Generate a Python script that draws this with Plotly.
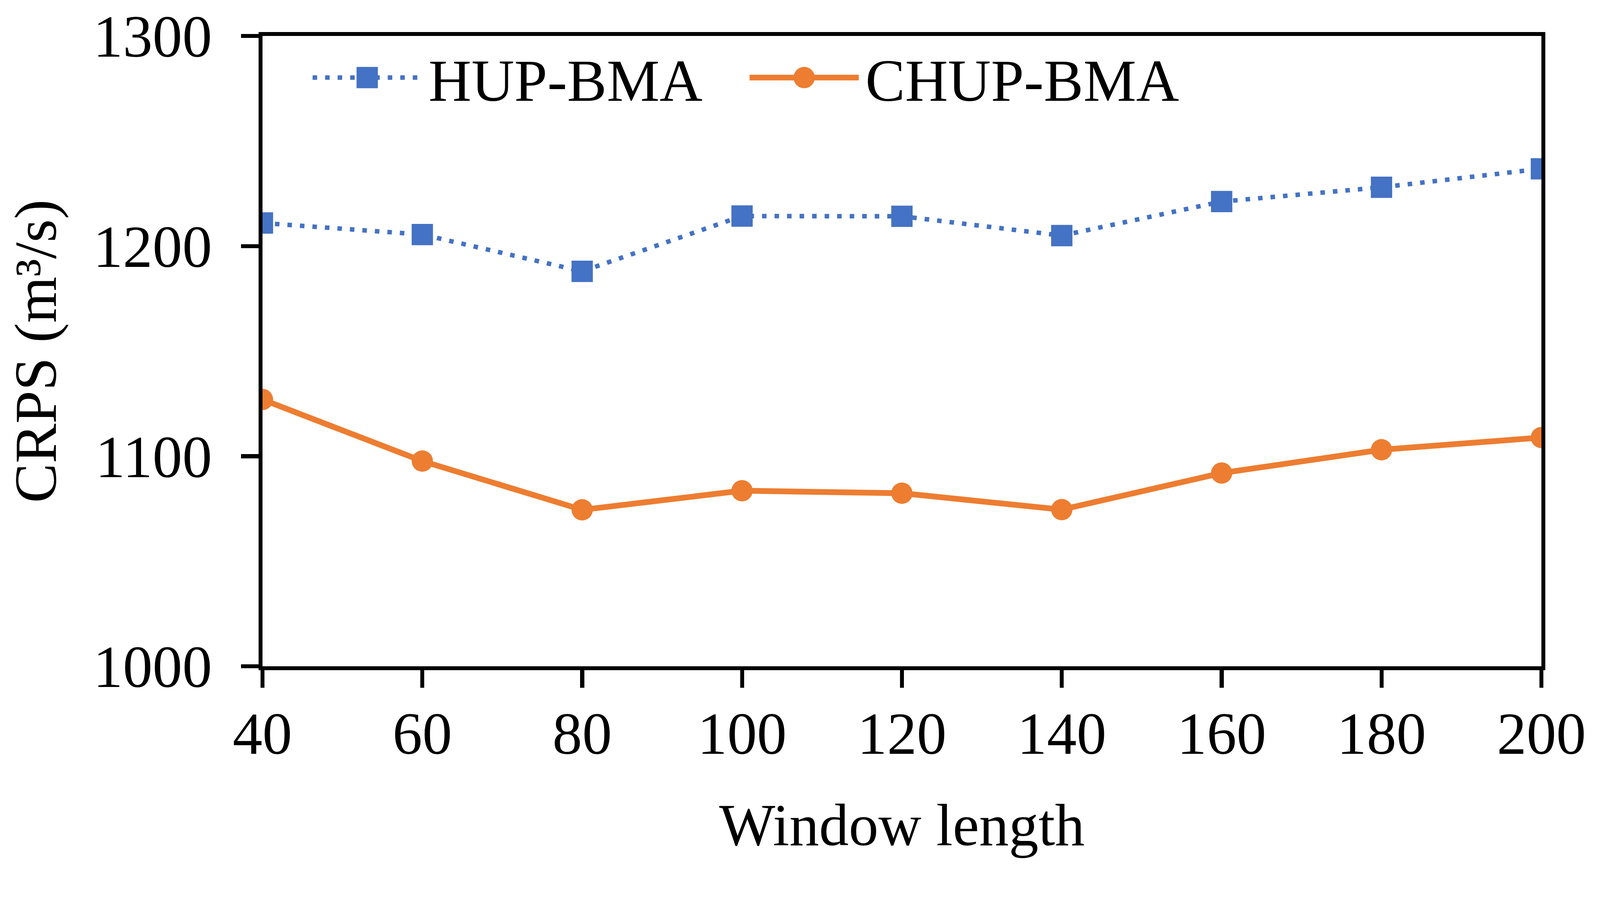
import plotly.graph_objects as go

# ---- data ----
window_length = [40, 60, 80, 100, 120, 140, 160, 180, 200]
hup_bma = [1211, 1205.5, 1188, 1214.3, 1214.2, 1205, 1221.2, 1228, 1236.8]
chup_bma = [1127, 1097.7, 1074.5, 1083.6, 1082.4, 1074.6, 1092, 1103.1, 1108.9]
y_ticks = [1000, 1100, 1200, 1300]
x_title = "Window length"
y_title = "CRPS (m³/s)"

# The figure is laid out at reduced scale and the page is zoomed to fill the window
W_PAGE, H_PAGE = 4205, 2298
K = 3.5
W = round(W_PAGE / K)
H = round(H_PAGE / K)

FONT = "Liberation Serif, Times New Roman, serif"
FS = 44.6
BLUE = "#4472C4"
ORANGE = "#ED7D31"

fig = go.Figure()
fig.add_trace(go.Scatter(
    x=window_length, y=hup_bma, name="HUP-BMA", mode="lines+markers",
    line=dict(color=BLUE, width=3.4, dash="3.4px,6px"),
    marker=dict(symbol="square", size=16, color=BLUE),
))
fig.add_trace(go.Scatter(
    x=window_length, y=chup_bma, name="CHUP-BMA", mode="lines+markers",
    line=dict(color=ORANGE, width=4.3),
    marker=dict(symbol="circle", size=16, color=ORANGE),
))

axis_common = dict(
    showline=True, linecolor="black", linewidth=2.9, mirror=True,
    showgrid=False, zeroline=False,
    ticks="outside", ticklen=13, tickwidth=2.9, tickcolor="black",
    tickfont=dict(family=FONT, size=FS, color="black"),
)

fig.update_layout(
    width=W, height=H,
    paper_bgcolor="white", plot_bgcolor="white",
    margin=dict(l=197, r=W - 1157, t=27, b=H - 500, autoexpand=False),
    font=dict(family=FONT, size=FS, color="black"),
    showlegend=True,
    legend=dict(
        orientation="h", x=0.034, y=0.934, xanchor="left", yanchor="middle",
        bgcolor="rgba(0,0,0,0)", borderwidth=0,
        font=dict(family=FONT, size=FS, color="black"),
        itemwidth=82, tracegroupgap=0,
        entrywidth=231, entrywidthmode="pixels",
    ),
    xaxis=dict(
        axis_common, range=[40, 200], tickvals=window_length,
        ticklabelstandoff=-4,
        title=dict(text=x_title, font=dict(family=FONT, size=FS), standoff=29),
    ),
    yaxis=dict(
        axis_common, range=[1000, 1300], tickvals=y_ticks,
        ticklabelstandoff=13,
        title=dict(text=y_title, font=dict(family=FONT, size=FS), standoff=14),
    ),
)

post = (
    "var z = Math.min(window.innerWidth / %d, window.innerHeight / %d);"
    "document.documentElement.style.overflow='hidden';"
    "document.body.style.margin='0';"
    "document.body.style.overflow='hidden';"
    "document.body.style.zoom = String(z);" % (W, H)
)
fig.write_html("out.html", config={"responsive": False, "displayModeBar": False},
               post_script=post)
